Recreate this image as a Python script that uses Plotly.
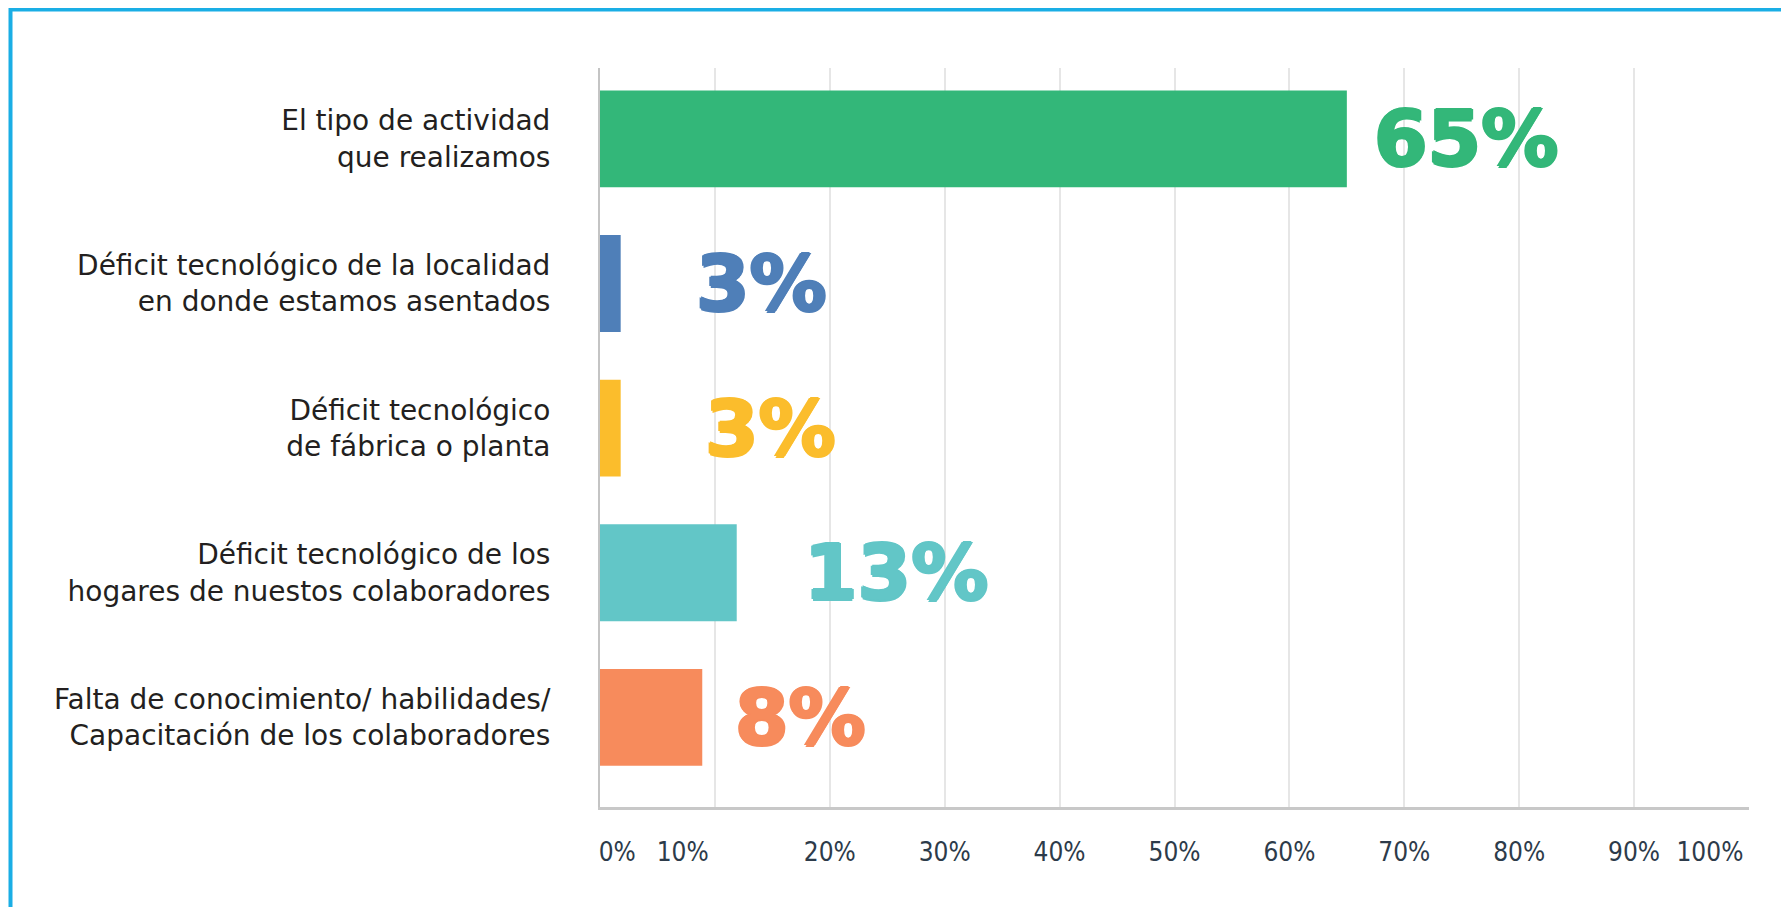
import plotly.graph_objects as go

categories = [
    "El tipo de actividad<br>que realizamos",
    "Déficit tecnológico de la localidad<br>en donde estamos asentados",
    "Déficit tecnológico<br>de fábrica o planta",
    "Déficit tecnológico de los<br>hogares de nuestos colaboradores",
    "Falta de conocimiento/ habilidades/<br>Capacitación de los colaboradores",
]
bar_values = [65.0, 1.8, 1.8, 11.9, 8.9]
value_labels = ["65%", "3%", "3%", "13%", "8%"]
label_pos = [67.2, 8.2, 9.0, 17.6, 11.6]
colors = ["#33b779", "#4f7fb8", "#fbbd2c", "#62c6c7", "#f78b5c"]

tick_pos = [1.5, 7.2, 20, 30, 40, 50, 60, 70, 80, 90, 96.6]
tick_text = ["0%", "10%", "20%", "30%", "40%", "50%", "60%", "70%", "80%", "90%", "100%"]

fig = go.Figure()
fig.add_trace(go.Bar(
    x=bar_values, y=categories, orientation="h",
    marker=dict(color=colors, line=dict(width=0)),
    width=0.67, showlegend=False, hoverinfo="x+y",
))
fig.add_trace(go.Scatter(
    x=[0, 100], y=[categories[0], categories[0]], xaxis="x2",
    mode="none", showlegend=False, hoverinfo="skip",
))

for cat, txt, pos, col in zip(categories, value_labels, label_pos, colors):
    fig.add_annotation(
        x=pos, y=cat, xref="x", yref="y", text=txt, showarrow=False,
        xanchor="left", yanchor="middle",
        font=dict(
            family="DejaVu Sans", size=77, color=col, weight="bold",
            shadow=f"1.5px 0 0 {col}, -1.5px 0 0 {col}, 0 1.5px 0 {col}, 0 -1.5px 0 {col}",
        ),
    )

W, H = 1789, 907
ml, mr, mt, mb = 592, 48, 60, 108
pw, ph = W - ml - mr, H - mt - mb
fig.add_shape(
    type="rect", xref="paper", yref="paper",
    x0=(2.5 - ml) / pw, x1=1.5, y0=-0.6, y1=(H - mb - 1.5) / ph,
    line=dict(color="#1aaee5", width=4), fillcolor="rgba(0,0,0,0)", layer="below",
)

fig.update_layout(
    width=W, height=H,
    margin=dict(l=ml, r=mr, t=mt, b=mb),
    paper_bgcolor="white", plot_bgcolor="white",
    xaxis=dict(
        range=[0, 100], tickvals=[0, 10, 20, 30, 40, 50, 60, 70, 80, 90, 100],
        showticklabels=False, showgrid=True, gridcolor="#e6e6e6", gridwidth=2,
        zeroline=False, showline=True, linecolor="#c8c8c8", linewidth=3,
        ticks="", fixedrange=True,
    ),
    xaxis2=dict(
        range=[0, 100], overlaying="x", side="bottom", anchor="y",
        tickvals=tick_pos, ticktext=tick_text, showgrid=False, zeroline=False,
        showline=False, ticks="", ticklabelstandoff=27,
        tickfont=dict(family="DejaVu Sans Condensed", size=26, color="#2d3b4a"),
    ),
    yaxis=dict(
        categoryorder="array", categoryarray=categories,
        range=[4.62, -0.49], showgrid=False, zeroline=False,
        showline=True, linecolor="#c4c4c4", linewidth=2, ticks="",
        ticklabelstandoff=42,
        tickfont=dict(family="DejaVu Sans", size=28, color="#231f20"),
    ),
)

fig.write_html("out.html")
